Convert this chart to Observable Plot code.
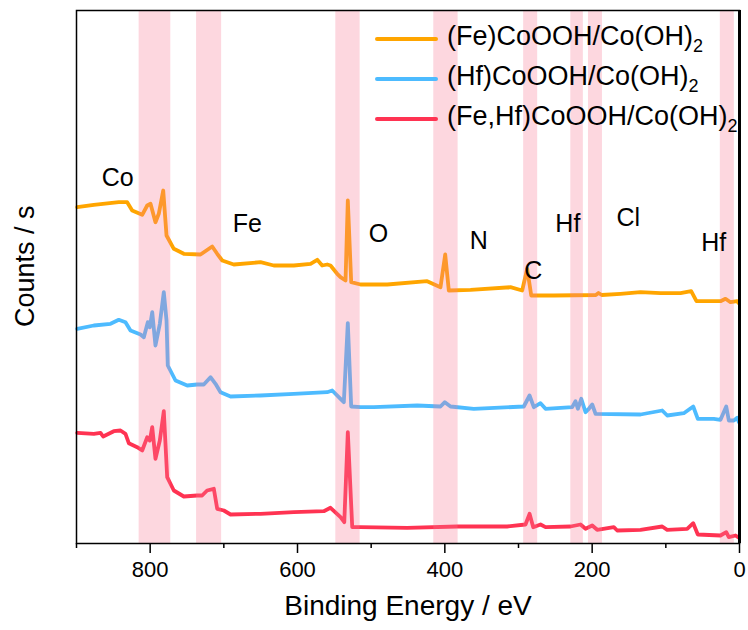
<!DOCTYPE html>
<html>
<head>
<meta charset="utf-8">
<script src="https://cdn.jsdelivr.net/npm/d3@7"></script>
<script src="https://cdn.jsdelivr.net/npm/@observablehq/plot@0.6"></script>
<style>
  body { margin: 0; background: #fff; font-family: "Liberation Sans", Arial, sans-serif; }
  #wrap { position: relative; width: 748px; height: 630px; }
  #legend { position: absolute; left: 375px; top: 19px; }
  .row { display: flex; align-items: center; height: 40px; white-space: nowrap; }
  .sw { width: 63px; height: 4px; border-radius: 2px; margin-right: 9px; }
  .lab { font-size: 27px; color: #000; line-height: 1; }
  .lab sub { font-size: 18px; vertical-align: -7px; }
</style>
</head>
<body>
<div id="wrap"><div id="legend"></div></div>
<script>
// Series names and colours
const seriesNames = ["(Fe)CoOOH/Co(OH)", "(Hf)CoOOH/Co(OH)", "(Fe,Hf)CoOOH/Co(OH)"];
const seriesColors = ["#FFA500", "#4DBBFF", "#FF3352"];

// Spectra: [binding energy (eV), counts (a.u., offset stacked)]
const feSpectrum = [
  [899,336.3],[876.5,338.7],[842.6,341.3],[831.2,341.3],[824.4,333],[810.8,328.7],[804,338],[799.5,339.7],
  [792.8,321.3],[788.3,329.7],[782.3,353],[777.8,308],[767.9,294.7],[754.3,289.7],[731.7,289],[715.8,297],
  [709,289.7],[702.2,283],[686.5,279],[650.2,281.3],[632.2,278],[605,278],[582.3,279.7],[573.2,283.7],
  [566.5,278],[559.7,279],[555.2,278],[546.1,269.7],[541.6,266.3],[534.8,263],[531.7,343],[527.1,261.3],
  [514.5,259],[478.2,259],[424,262.3],[405.9,256.3],[399.5,289],[394.6,253],[365.1,253.7],[310.9,256.3],
  [295,253],[288.2,274.7],[282.7,248],[252.1,248],[195,248.5],[191.4,250.5],[187,248.5],[161.5,249.7],
  [134.4,251.3],[107.2,250.3],[80.1,250.3],[65.6,252.3],[58.4,242.3],[25.8,242.3],[19,244.7],[12.2,241.3],
  [3.1,242.3],[0.9,240.3]
];
const hfSpectrum = [
  [899,214.7],[876.5,218],[853.8,219.7],[842.6,223.7],[833.5,221.3],[826.7,213],[813.1,209],[808.6,206.3],
  [803.2,221.3],[800.5,216.3],[797.2,231.3],[792.8,198],[786.9,219.7],[781.5,251.3],[777.8,223],[776.1,178],
  [765.6,163],[749.7,158],[736.2,159],[727.2,159],[718.1,166.3],[711.3,159.7],[704.5,151.3],[690.9,147],
  [650.2,148],[605,149.7],[559.7,151.3],[552.9,153],[541.6,144.7],[537.1,141.3],[531.7,220.3],[527.1,137],
  [514.5,136.3],[496.4,136.3],[437.5,138],[405.9,137],[400,141.3],[392.3,137],[360.7,134.7],[292.8,137],
  [285,148],[279.2,136.3],[270.1,140.3],[263.3,134.7],[227.1,136.3],[222.6,142.3],[219.4,134.7],[214.8,144.7],
  [209,131.3],[204.5,134.7],[199.9,139],[195.4,129.7],[134.4,129],[104.9,133],[98.1,128],[75.6,130.3],
  [62.8,137],[56.6,124.7],[34.9,124.7],[25.8,123.7],[18,137],[14.5,123],[7.7,123],[3.1,125.7],[0.9,121.3]
];
const feHfSpectrum = [
  [899,110.7],[876.5,109.7],[867.4,110.7],[863.8,107],[849.4,112.3],[840.3,113],[833.5,109.7],[829,100.3],
  [817.6,96.3],[810.8,93],[804,106.3],[800.5,103],[797.2,116.3],[792.8,84.7],[786.9,103],[781.5,132.3],
  [776.9,66.3],[767.9,53],[754.3,47],[736.2,48],[729.5,48],[722.7,53],[713.6,54.7],[709,34.7],[700,33],
  [690.9,29],[650.2,29.7],[605,31.3],[564.3,32.3],[555.2,35.7],[541.6,26.3],[536.5,21.3],[531.7,111.3],
  [525.7,16.3],[514.5,16.3],[451.1,15.7],[383.3,17],[315.4,17],[290.5,19],[285,29.7],[280,16.3],[270.1,19],
  [263.3,16.3],[229.4,17],[215.8,19],[209,14.7],[199.9,18],[193.2,13.7],[170.6,16.3],[166,13],[134.4,13.7],
  [104.9,17],[98.1,13.7],[71,14.7],[62.8,20.3],[56.6,9],[25.8,8],[18,11.3],[14.5,6.3],[5.4,8],[0.9,5.7]
];

// Highlighted core-level regions (eV)
const bandLow  = [772, 703, 515, 382, 274, 212, 186, 7];
const bandHigh = [815, 737, 548, 415, 293, 229, 205, 26];

// Element labels
const labelText = ["Co", "Fe", "O", "N", "C", "Hf", "Cl", "Hf"];
const labelEnergy = [844, 668, 490, 354, 280, 233, 151, 35];
const labelCounts = [366, 320, 310, 303, 273, 320, 326, 301];

// Axis ticks
const majorTicks = [800, 600, 400, 200, 0];
const minorTicks = [900, 700, 500, 300, 100];

const spectra = [feSpectrum, hfSpectrum, feHfSpectrum];
const lineData = spectra.flatMap((s, i) => s.map(([ev, c]) => ({ev, c, series: seriesNames[i]})));
const bands = bandLow.map((lo, i) => ({lo, hi: bandHigh[i]}));
const labels = labelText.map((t, i) => ({t, ev: labelEnergy[i], c: labelCounts[i]}));

const chart = Plot.plot({
  width: 748,
  height: 630,
  marginLeft: 76,
  marginRight: 9,
  marginTop: 10,
  marginBottom: 87,
  style: {fontFamily: "'Liberation Sans', Arial, sans-serif", background: "#fff", color: "#000"},
  x: {domain: [900, 0]},
  y: {domain: [0, 533], axis: null},
  color: {domain: seriesNames, range: seriesColors},
  marks: [
    Plot.line(lineData, {x: "ev", y: "c", z: "series", stroke: "series", strokeWidth: 3.8, strokeLinejoin: "round"}),
    Plot.rect(bands, {x1: "lo", x2: "hi", fill: "#f87a94", fillOpacity: 0.3}),
    Plot.text(labels, {x: "ev", y: "c", text: "t", fontSize: 25, fill: "#000"}),
    Plot.frame({stroke: "#000", strokeWidth: 1.5}),
    Plot.ruleX([0], {stroke: "#000", strokeWidth: 3}),
    Plot.axisX({ticks: majorTicks, tickSize: 10, tickPadding: 8, fontSize: 22, label: null, tickFormat: d => String(d), strokeWidth: 1.5}),
    Plot.axisX({ticks: minorTicks, tickSize: 5, tickFormat: () => "", label: null, strokeWidth: 1.5}),
    Plot.text(["Binding Energy / eV"], {frameAnchor: "bottom", dy: 71, fontSize: 28, fill: "#000"}),
    Plot.text(["Counts / s"], {frameAnchor: "left", dx: -51, dy: 50, rotate: -90, fontSize: 27, fill: "#000"})
  ]
});

const wrap = document.getElementById("wrap");
wrap.insertBefore(chart, wrap.firstChild);

const legend = document.getElementById("legend");
seriesNames.forEach((name, i) => {
  const row = document.createElement("div");
  row.className = "row";
  const sw = document.createElement("div");
  sw.className = "sw";
  sw.style.background = seriesColors[i];
  const lab = document.createElement("span");
  lab.className = "lab";
  lab.innerHTML = name + "<sub>2</sub>";
  row.appendChild(sw);
  row.appendChild(lab);
  legend.appendChild(row);
});
</script>
</body>
</html>
